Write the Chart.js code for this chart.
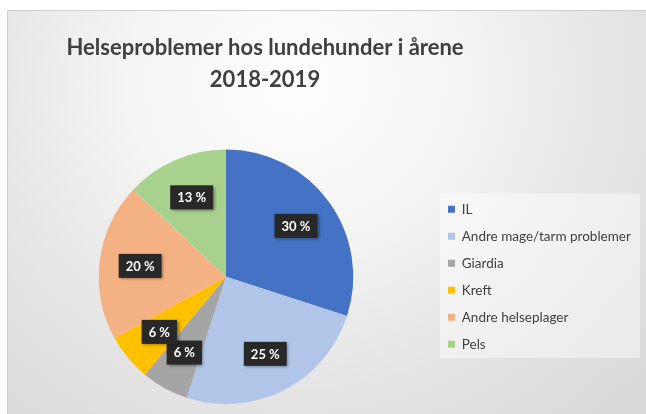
<!DOCTYPE html>
<html>
<head>
<meta charset="utf-8">
<script src="https://cdn.jsdelivr.net/npm/chart.js@4/dist/chart.umd.min.js"></script>
<style>
  html, body { margin: 0; padding: 0; background: #ffffff; }
  #frame {
    position: absolute; left: 7px; top: 10px; width: 639px; height: 404px;
    border-left: 1px solid #cfcfcf; border-top: 1px solid #cfcfcf;
    background: radial-gradient(ellipse 75% 110% at 45% 18%, #ffffff 0%, #f4f4f4 35%, #e4e4e4 70%, #d9d9d9 100%);
  }
  #frame canvas { display: block; }
</style>
</head>
<body>
<div id="frame"><canvas id="pieChart" width="639" height="404"></canvas></div>
<script>
// Helseproblemer hos lundehunder 2018-2019
const chartTitle = ['Helseproblemer hos lundehunder i årene', '2018-2019'];
const categories = ['IL', 'Andre mage/tarm problemer', 'Giardia', 'Kreft', 'Andre helseplager', 'Pels'];
const shares = [30, 25, 6, 6, 20, 13];
const sliceColors = ['#4472C4', '#B0C5E8', '#A5A5A5', '#FFC000', '#F4B183', '#A9D18E'];

// Mørke etikettbokser med prosentverdi
const pctLabels = {
  id: 'pctLabels',
  afterDatasetsDraw(chart) {
    const ctx = chart.ctx;
    const meta = chart.getDatasetMeta(0);
    ctx.save();
    ctx.font = 'bold 13px Lato, "Open Sans", sans-serif';
    ctx.textAlign = 'center';
    ctx.textBaseline = 'middle';
    meta.data.forEach((arc, i) => {
      const p = arc.getProps(['x', 'y', 'startAngle', 'endAngle', 'outerRadius']);
      const mid = (p.startAngle + p.endAngle) / 2;
      const r = p.outerRadius * 0.68;
      const cx = p.x + Math.cos(mid) * r;
      const cy = p.y + Math.sin(mid) * r;
      const txt = shares[i] + ' %';
      const w = ctx.measureText(txt).width + 14;
      const h = 24;
      ctx.shadowColor = 'rgba(0,0,0,0.45)';
      ctx.shadowBlur = 3;
      ctx.shadowOffsetX = 1.5;
      ctx.shadowOffsetY = 1.5;
      ctx.fillStyle = '#282828';
      ctx.fillRect(cx - w / 2, cy - h / 2, w, h);
      ctx.shadowColor = 'transparent';
      ctx.fillStyle = '#ffffff';
      ctx.fillText(txt, cx, cy + 0.5);
    });
    ctx.restore();
  }
};

// Lys bakgrunn bak forklaringen, og tittelen litt til høyre for kaka
const layoutTweaks = {
  id: 'layoutTweaks',
  afterLayout(chart) {
    const t = chart.titleBlock;
    if (t) {
      const cx = (chart.chartArea.left + chart.chartArea.right) / 2 + 39;
      t.left = cx - 300;
      t.right = cx + 300;
    }
  },
  beforeDraw(chart) {
    const lg = chart.legend;
    if (!lg || !lg.legendHitBoxes.length) return;
    const boxes = lg.legendHitBoxes;
    const first = boxes[0], last = boxes[boxes.length - 1];
    const ctx = chart.ctx;
    ctx.save();
    ctx.fillStyle = 'rgba(255,255,255,0.45)';
    ctx.fillRect(first.left - 8, first.top - 9, 200, last.top + last.height - first.top + 16);
    ctx.restore();
  }
};

new Chart(document.getElementById('pieChart'), {
  type: 'pie',
  data: {
    labels: categories,
    datasets: [{
      data: shares,
      backgroundColor: sliceColors,
      borderWidth: 0
    }]
  },
  options: {
    responsive: false,
    animation: false,
    layout: { padding: { left: 9.5, right: 12.5, top: 0, bottom: 11 } },
    plugins: {
      title: {
        display: true,
        text: chartTitle,
        color: '#404040',
        font: { family: 'Lato, "Open Sans", sans-serif', size: 22, weight: 'bold', lineHeight: 1.45 },
        padding: { top: 21, bottom: 53.7 }
      },
      legend: {
        position: 'right',
        fullSize: false,
        maxWidth: 200,
        labels: {
          boxWidth: 7,
          boxHeight: 7,
          padding: 13.5,
          color: '#404040',
          font: { family: 'Lato, "Open Sans", sans-serif', size: 13.5 }
        }
      },
      tooltip: { enabled: false }
    }
  },
  plugins: [layoutTweaks, pctLabels]
});
</script>
</body>
</html>
